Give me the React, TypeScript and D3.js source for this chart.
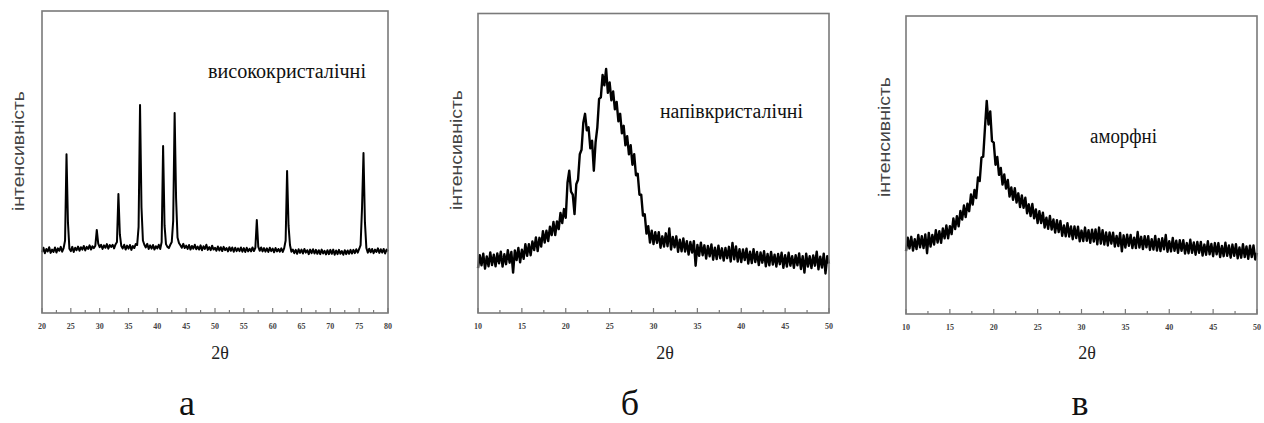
import React from "react";
import * as d3 from "d3";

// ---------- data ----------
// panel а: highly crystalline, 2θ from 20 to 80, step 0.25
const aTheta0 = 20;
const aStep = 0.25;
const aIntensity = [
  20.1, 21.6, 19.8, 21.2,
  20.4, 21.8, 19.9, 21.0,
  20.2, 21.7, 20.0, 21.4,
  20.6, 21.9, 20.3, 21.5,
  24.0, 52.6, 30.0, 21.3,
  20.5, 21.9, 20.2, 21.6,
  20.8, 22.0, 20.6, 21.8,
  21.0, 22.2, 20.7, 21.9,
  21.2, 22.4, 21.0, 22.1,
  21.5, 22.3, 27.5, 23.0,
  21.8, 22.6, 21.2, 22.4,
  21.6, 22.8, 21.3, 22.5,
  21.9, 22.6, 21.4, 22.7,
  23.5, 39.4, 26.0, 22.2,
  21.4, 22.6, 21.0, 22.3,
  21.3, 22.5, 20.9, 22.2,
  21.5, 22.8, 22.5, 28.5,
  68.9, 35.0, 24.0, 22.6,
  21.7, 22.9, 21.2, 22.4,
  21.3, 22.5, 21.0, 22.1,
  21.4, 22.6, 21.2, 23.5,
  55.3, 29.0, 22.8, 21.9,
  21.5, 22.6, 23.5, 30.5,
  66.2, 38.0, 25.0, 23.2,
  22.4, 21.6, 22.9, 21.5,
  22.3, 21.2, 22.5, 21.0,
  22.2, 21.3, 22.6, 21.1,
  22.0, 21.0, 22.4, 20.8,
  22.1, 21.2, 22.6, 20.9,
  21.8, 20.8, 22.3, 21.0,
  21.6, 20.6, 22.0, 20.7,
  21.8, 20.5, 21.9, 20.8,
  21.5, 20.4, 21.8, 20.6,
  21.7, 20.3, 21.6, 20.5,
  21.4, 20.5, 21.7, 20.3,
  21.5, 20.2, 21.6, 20.4,
  21.3, 20.4, 21.7, 20.5,
  21.6, 30.8, 22.0, 20.6,
  21.7, 20.4, 21.5, 20.3,
  21.4, 20.2, 21.6, 20.5,
  21.3, 20.1, 21.5, 20.4,
  21.2, 20.3, 21.4, 20.2,
  21.5, 24.0, 47.0, 29.0,
  22.5, 20.3, 21.0, 19.8,
  20.9, 19.6, 21.1, 19.9,
  21.0, 19.7, 21.2, 20.0,
  20.8, 19.5, 21.0, 19.8,
  21.1, 19.7, 20.9, 19.6,
  20.8, 19.5, 21.0, 19.7,
  20.6, 19.4, 20.8, 19.5,
  20.9, 19.6, 21.0, 19.3,
  20.7, 19.5, 20.9, 19.6,
  20.5, 19.3, 20.8, 19.5,
  20.7, 19.6, 20.9, 19.7,
  20.9, 19.8, 21.1, 20.0,
  21.2, 22.5, 35.0, 53.0,
  30.0, 21.5, 20.0, 21.3,
  20.1, 21.2, 19.8, 21.0,
  20.2, 21.4, 19.9, 21.1,
  20.0, 21.2, 19.7, 21.0,
  20.4,
];

// panel б: semi-crystalline, 2θ from 10 to 50, step 0.2
const bTheta0 = 10;
const bStep = 0.2;
const bIntensity = [
  15.0, 19.3, 15.9, 19.8, 14.8,
  18.9, 15.6, 20.2, 16.0, 19.5,
  15.6, 19.9, 16.6, 20.5, 15.5,
  19.6, 16.3, 21.0, 16.8, 20.4,
  13.5, 20.9, 17.7, 21.7, 16.9,
  21.1, 18.1, 23.0, 19.1, 23.0,
  19.3, 23.9, 21.0, 25.2, 20.7,
  25.1, 22.2, 27.3, 23.5, 27.5,
  24.0, 28.8, 26.0, 30.4, 26.0,
  30.6, 28.0, 33.4, 30.0, 34.7,
  31.8, 43.5, 47.5, 40.5, 39.5,
  33.0, 43.0, 44.5, 53.0, 54.5,
  63.5, 66.5, 61.0, 62.0, 55.0,
  57.5, 47.5, 57.0, 62.0, 71.5,
  72.0, 79.5, 76.0, 81.5, 73.5,
  77.0, 71.0, 74.0, 68.0, 70.5,
  64.0, 66.5, 60.0, 62.5, 56.0,
  59.0, 53.0, 56.0, 49.5, 53.0,
  46.0, 46.5, 39.5, 39.5, 32.5,
  33.0, 26.5, 29.0, 23.5, 27.5,
  23.0, 27.0, 23.4, 27.0, 21.8,
  25.6, 22.2, 26.6, 22.3, 28.2,
  21.2, 25.4, 21.9, 25.6, 20.4,
  24.5, 20.6, 24.9, 20.5, 24.0,
  19.5, 23.7, 20.2, 24.0, 15.8,
  22.7, 19.1, 23.5, 19.3, 22.6,
  18.2, 22.4, 18.9, 22.9, 17.8,
  21.8, 18.0, 22.5, 18.3, 21.6,
  17.5, 21.7, 18.3, 22.1, 17.2,
  23.4, 17.9, 22.2, 17.2, 21.3,
  17.0, 21.2, 17.7, 21.5, 16.5,
  20.5, 16.7, 21.3, 17.0, 20.4,
  16.0, 20.2, 16.8, 20.6, 15.6,
  19.7, 15.9, 20.4, 16.2, 19.5,
  15.5, 19.7, 16.3, 20.1, 15.1,
  19.3, 15.5, 20.1, 15.8, 19.0,
  15.1, 19.3, 15.9, 19.9, 14.7,
  19.0, 13.5, 19.8, 15.5, 19.0,
  15.0, 19.2, 15.8, 20.5, 14.6,
  18.8, 15.2, 19.8, 13.2, 19.0,
  16.5,
];

// panel в: amorphous, 2θ from 10 to 50, step 0.2
const cTheta0 = 10;
const cStep = 0.2;
const cIntensity = [
  21.1, 25.6, 22.0, 25.9, 21.3,
  25.1, 21.8, 26.5, 22.4, 26.1,
  22.1, 26.7, 20.4, 27.2, 22.6,
  26.5, 23.3, 28.1, 24.0, 27.8,
  23.9, 28.7, 25.4, 29.7, 25.4,
  29.5, 26.8, 32.1, 28.5, 32.8,
  29.4, 34.6, 31.7, 36.4, 32.5,
  37.0, 34.5, 40.1, 36.7, 41.6,
  38.9, 45.8, 44.6, 52.5, 52.8,
  62.5, 71.5, 63.6, 68.0, 58.0,
  57.5, 50.1, 52.7, 46.7, 49.0,
  43.4, 46.8, 42.1, 45.0, 39.4,
  42.5, 38.3, 42.2, 37.4, 40.5,
  35.9, 39.8, 35.6, 39.0, 33.8,
  36.8, 32.9, 36.9, 32.1, 35.1,
  30.5, 34.5, 30.5, 34.0, 29.0,
  32.3, 28.6, 32.9, 28.3, 31.7,
  27.3, 31.5, 27.5, 31.2, 26.2,
  29.7, 26.1, 30.5, 26.0, 29.4,
  25.1, 29.4, 25.5, 29.3, 24.4,
  28.0, 24.5, 29.0, 24.6, 28.1,
  23.9, 28.3, 24.3, 28.4, 23.4,
  29.0, 23.6, 28.1, 23.3, 27.4,
  23.0, 27.4, 23.6, 27.3, 22.6,
  26.2, 22.8, 27.2, 21.0, 26.4,
  22.3, 26.6, 22.9, 26.5, 22.1,
  25.6, 22.1, 27.5, 22.3, 25.9,
  21.8, 26.1, 22.4, 26.1, 21.5,
  25.1, 21.6, 26.2, 21.3, 25.2,
  21.1, 25.4, 21.7, 26.5, 20.9,
  24.4, 21.0, 25.5, 21.2, 24.6,
  20.5, 24.8, 21.2, 24.8, 20.3,
  23.8, 20.4, 24.9, 20.5, 24.0,
  19.9, 24.2, 20.5, 24.2, 19.6,
  23.3, 19.9, 24.4, 20.0, 23.5,
  19.4, 23.8, 20.0, 23.8, 19.1,
  22.8, 19.4, 23.9, 19.5, 23.0,
  18.9, 23.3, 19.5, 23.4, 18.7,
  22.3, 18.9, 23.4, 19.1, 22.7,
  18.5, 22.9, 19.1, 23.0, 18.3,
  20.5,
];

const aTicks = [20, 25, 30, 35, 40, 45, 50, 55, 60, 65, 70, 75, 80];
const bcTicks = [10, 15, 20, 25, 30, 35, 40, 45, 50];

const yLabel = "інтенсивність";
const xLabel = "2θ";

type PanelSpec = {
  theta0: number;
  step: number;
  values: number[];
  domain: [number, number];
  ticks: number[];
  frame: { left: number; top: number; right: number; bottom: number };
  lineWidth: number;
  note: string;
  noteX: number;
  noteY: number;
  noteLen: number;
  yLabelX: number;
  yLabelY: number;
  xLabelX: number;
  letter: string;
  letterX: number;
};

const panels: PanelSpec[] = [
  {
    theta0: aTheta0, step: aStep, values: aIntensity, domain: [20, 80], ticks: aTicks,
    frame: { left: 42, top: 11, right: 388, bottom: 313 }, lineWidth: 2.0,
    note: "висококристалічні", noteX: 208, noteY: 78, noteLen: 158,
    yLabelX: 18, yLabelY: 151, xLabelX: 220, letter: "а", letterX: 187,
  },
  {
    theta0: bTheta0, step: bStep, values: bIntensity, domain: [10, 50], ticks: bcTicks,
    frame: { left: 478, top: 13.5, right: 829, bottom: 313 }, lineWidth: 2.4,
    note: "напівкристалічні", noteX: 660, noteY: 118, noteLen: 143,
    yLabelX: 456, yLabelY: 150, xLabelX: 665, letter: "б", letterX: 630,
  },
  {
    theta0: cTheta0, step: cStep, values: cIntensity, domain: [10, 50], ticks: bcTicks,
    frame: { left: 906, top: 16, right: 1257, bottom: 314 }, lineWidth: 2.4,
    note: "аморфні", noteX: 1090, noteY: 143, noteLen: 67,
    yLabelX: 884, yLabelY: 137, xLabelX: 1087, letter: "в", letterX: 1080,
  },
];

function Panel({ p }: { p: PanelSpec }) {
  const { frame } = p;
  const x = d3.scaleLinear().domain(p.domain).range([frame.left, frame.right]);
  const y = d3.scaleLinear().domain([0, 100]).range([frame.bottom, frame.top]);
  const pts: [number, number][] = p.values.map((v, i) => [p.theta0 + i * p.step, v]);
  const line = d3
    .line<[number, number]>()
    .x((d) => x(d[0]))
    .y((d) => y(d[1]));
  const minor: number[] = [];
  for (let i = 0; i < p.ticks.length - 1; i++) minor.push((p.ticks[i] + p.ticks[i + 1]) / 2);
  return (
    <g>
      <path d={line(pts) || ""} fill="none" stroke="#000" strokeWidth={p.lineWidth} strokeLinejoin="round" />
      <rect
        x={frame.left}
        y={frame.top}
        width={frame.right - frame.left}
        height={frame.bottom - frame.top}
        fill="none"
        stroke="#7a7a7a"
        strokeWidth={1.6}
      />
      {p.ticks.map((t) => (
        <g key={"t" + t}>
          <line x1={x(t)} x2={x(t)} y1={frame.bottom} y2={frame.bottom - 5} stroke="#7a7a7a" strokeWidth={1.2} />
          <text
            x={x(t)}
            y={frame.bottom + 16}
            textAnchor="middle"
            fontFamily="Liberation Serif, serif"
            fontWeight="bold"
            fontSize={8}
            fill="#444"
          >
            {t}
          </text>
        </g>
      ))}
      {minor.map((t) => (
        <line key={"m" + t} x1={x(t)} x2={x(t)} y1={frame.bottom} y2={frame.bottom - 3} stroke="#7a7a7a" strokeWidth={1.2} />
      ))}
      <text
        x={p.noteX}
        y={p.noteY}
        fontFamily="Liberation Serif, serif"
        fontSize={20}
        textLength={p.noteLen}
        lengthAdjust="spacingAndGlyphs"
        fill="#111"
      >
        {p.note}
      </text>
      <text
        transform={`translate(${p.yLabelX},${p.yLabelY}) rotate(-90)`}
        textAnchor="middle"
        dominantBaseline="central"
        fontFamily="Liberation Sans, Arial, sans-serif"
        fontSize={17}
        textLength={120}
        lengthAdjust="spacingAndGlyphs"
        fill="#444"
      >
        {yLabel}
      </text>
      <text
        x={p.xLabelX}
        y={359}
        textAnchor="middle"
        fontFamily="Liberation Serif, serif"
        fontSize={18}
        fill="#222"
      >
        {xLabel}
      </text>
      <text
        x={p.letterX}
        y={415}
        textAnchor="middle"
        fontFamily="Liberation Serif, serif"
        fontSize={36}
        fill="#111"
      >
        {p.letter}
      </text>
    </g>
  );
}

export default function App() {
  return (
    <svg
      width={1264}
      height={423}
      style={{ position: "absolute", left: 0, top: 0, background: "#fff" }}
    >
      <rect x={0} y={0} width={1264} height={423} fill="#fff" />
      {panels.map((p) => (
        <Panel key={p.letter} p={p} />
      ))}
    </svg>
  );
}
